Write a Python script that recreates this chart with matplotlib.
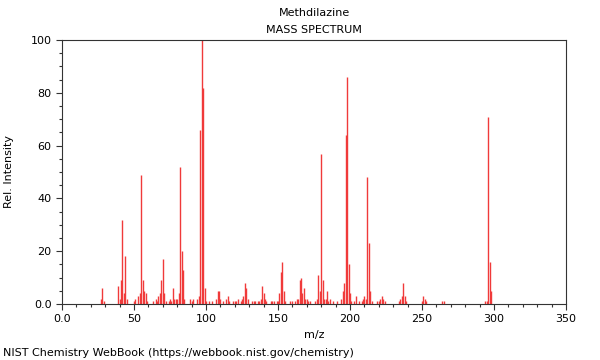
import matplotlib
matplotlib.use('Agg')
import matplotlib.pyplot as plt
from matplotlib.ticker import MultipleLocator, FixedFormatter, FixedLocator

plt.rcParams['font.family'] = 'DejaVu Sans'
plt.rcParams['font.size'] = 8

compound = 'Methdilazine'

# m/z and relative intensity
mz = [27, 28, 29, 39, 40, 41, 42, 43, 44, 45, 50, 51, 53, 54, 55, 56, 57, 58, 59,
      63, 65, 66, 67, 68, 69, 70, 71, 72, 74, 75, 76, 77, 78, 79, 80, 81, 82, 83,
      84, 85, 89, 90, 91, 94, 95, 96, 97, 98, 99, 100, 102, 104, 107, 108, 109,
      110, 112, 114, 115, 116, 119, 120, 121, 122, 124, 125, 126, 127, 128, 129,
      132, 133, 134, 136, 137, 138, 139, 140, 141, 142, 145, 146, 147, 149, 150,
      151, 152, 153, 154, 155, 158, 160, 162, 163, 164, 165, 166, 167, 168, 169,
      170, 171, 172, 176, 177, 178, 179, 180, 181, 182, 183, 184, 185, 186, 188,
      191, 194, 195, 196, 197, 198, 199, 200, 201, 203, 204, 206, 208, 209, 210,
      211, 212, 213, 214, 215, 219, 220, 221, 222, 223, 224, 234, 235, 236, 237,
      238, 239, 250, 251, 252, 253, 264, 265, 294, 295, 296, 297, 298]
intensity = [2, 6, 1, 7, 2, 9, 32, 4, 18, 2, 1, 2, 3, 4, 49, 9, 5, 4, 1,
             1, 2, 1, 3, 4, 9, 17, 4, 1, 1, 2, 1, 6, 2, 2, 2, 4, 52, 20,
             13, 2, 2, 1, 2, 2, 3, 66, 100, 82, 6, 1, 1, 1, 2, 5, 5,
             2, 1, 2, 3, 1, 1, 1, 1, 2, 1, 2, 3, 8, 6, 2,
             1, 1, 1, 1, 1, 2, 7, 4, 2, 1, 1, 1, 1, 1, 1,
             4, 12, 16, 5, 1, 1, 1, 1, 2, 2, 9, 10, 4, 6, 2,
             2, 1, 1, 1, 2, 11, 5, 57, 9, 2, 2, 5, 1, 2, 1,
             1, 2, 5, 8, 64, 86, 15, 4, 1, 1, 3, 1, 1, 2, 3,
             2, 48, 23, 5, 1, 1, 1, 2, 3, 2, 1, 1, 2, 3, 8,
             3, 1, 1, 3, 2, 1, 1, 1, 1, 1, 71, 16, 5]

xticks = [0, 50, 100, 150, 200, 250, 300, 350]
xtick_labels = ['0.0', '50', '100', '150', '200', '250', '300', '350']
yticks = [0, 20, 40, 60, 80, 100]
ytick_labels = ['0.0', '20', '40', '60', '80', '100']

fig = plt.figure(figsize=(6, 3.6), dpi=100)
ax = fig.add_axes([62 / 600, 1 - 304 / 360, 504 / 600, 264 / 360])

ax.vlines(mz, 0, intensity, color='#f03a3a', linewidth=1.0)

ax.set_xlim(0, 350)
ax.set_ylim(0, 100)
ax.xaxis.set_major_locator(FixedLocator(xticks))
ax.xaxis.set_major_formatter(FixedFormatter(xtick_labels))
ax.yaxis.set_major_locator(FixedLocator(yticks))
ax.yaxis.set_major_formatter(FixedFormatter(ytick_labels))
ax.xaxis.set_minor_locator(MultipleLocator(10))
ax.yaxis.set_minor_locator(MultipleLocator(5))
ax.tick_params(which='major', direction='out', length=4, width=0.8, labelsize=8, colors='#333333',
               labelcolor='black')
ax.tick_params(which='minor', direction='out', length=2, width=0.8, colors='#333333')
for s in ax.spines.values():
    s.set_color('#333333')
    s.set_linewidth(0.8)

ax.set_xlabel('m/z', fontsize=8)
ax.set_ylabel('Rel. Intensity', fontsize=8, labelpad=12)

fig.text(314 / 600, 1 - 13 / 360, compound, ha='center', va='center', fontsize=8)
fig.text(314 / 600, 1 - 30 / 360, 'MASS SPECTRUM', ha='center', va='center', fontsize=8)
fig.text(3 / 600, 1 - 353 / 360, 'NIST Chemistry WebBook (https://webbook.nist.gov/chemistry)',
         ha='left', va='center', fontsize=8)

fig.savefig('out.png', dpi=100)
